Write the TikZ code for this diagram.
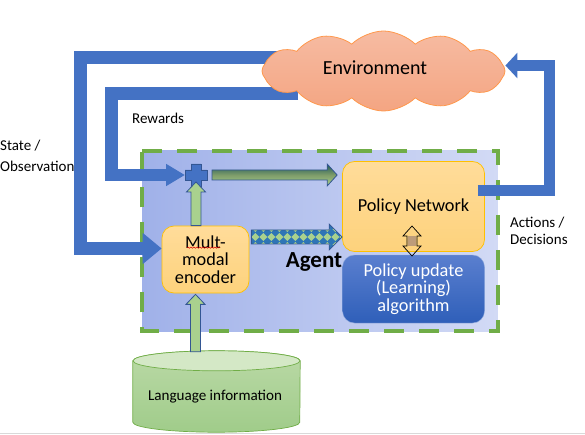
\documentclass[tikz,border=0pt]{standalone}
\usepackage{fontspec}
\setmainfont{Carlito}
\usetikzlibrary{arrows.meta,positioning,calc,shapes.geometric,shapes.symbols,decorations.pathmorphing}
\definecolor{band}{HTML}{4472C4}
\definecolor{edgeg}{HTML}{70AD47}
\definecolor{arrg}{HTML}{A9D18E}
\definecolor{arrb}{HTML}{2E75B6}
\definecolor{cloudl}{HTML}{F6BBA2}
\definecolor{cloudd}{HTML}{F4A582}
\definecolor{yboxl}{HTML}{FFDC9A}
\definecolor{yboxd}{HTML}{FDD27C}
\definecolor{ybord}{HTML}{FFC000}
\definecolor{agl}{HTML}{A0B1E9}
\definecolor{agd}{HTML}{D2DAF5}
\definecolor{updl}{HTML}{5A7FCF}
\definecolor{updd}{HTML}{2F5FB9}
\definecolor{dbl}{HTML}{BAD9A6}
\definecolor{dbd}{HTML}{A0CC8A}
\tikzset{
  lbl/.style={font=\fontsize{15}{18}\selectfont,inner sep=0pt,align=left},
  bandline/.style={line width=12.5pt,draw=band,-{Triangle[length=19pt,width=30pt,fill=band]}},
  ybox/.style={rounded corners=12pt,draw=ybord,top color=yboxl,bottom color=yboxd,align=center,line width=.7pt,font=\fontsize{18.3}{17.5}\selectfont,inner sep=0pt},
  blockarrow/.style n args={3}{to path={
    ($(\tikztostart)!#1!90:(\tikztotarget)$) --
    ($(\tikztotarget)!#3!(\tikztostart)!#1!90:(\tikztotarget)$) --
    ($(\tikztotarget)!#3!(\tikztostart)!#2!90:(\tikztotarget)$) --
    (\tikztotarget) --
    ($(\tikztotarget)!#3!(\tikztostart)!#2!-90:(\tikztotarget)$) --
    ($(\tikztotarget)!#3!(\tikztostart)!#1!-90:(\tikztotarget)$) --
    ($(\tikztostart)!#1!-90:(\tikztotarget)$) -- cycle}},
  garrow/.style={blockarrow={5pt}{9.5pt}{10pt},draw=band!75!black,fill=arrg,line width=.8pt},
}
\begin{document}
\begin{tikzpicture}[x=1pt,y=-1pt]
  \useasboundingbox (0,0) rectangle (585,435);
  \draw[black!15,line width=1pt] (0,433.5) -- (585,433.5);

  \node[minimum width=355pt,minimum height=180pt,inner sep=0pt,
    shade,shading angle=-60,left color=agl,right color=agd] (agentbox) at (320,241) {};
  \draw[edgeg,line width=4pt,dash pattern=on 20pt off 15pt] (agentbox.north west) -- (agentbox.north east) -- (agentbox.south east) -- (agentbox.south west) -- cycle;

  % the two boxes of the agent
  \node[ybox,minimum width=142pt,minimum height=90pt] (pnet) at (413.5,206.5) {Policy Network};
  \node[rounded corners=12pt,draw=band!60,top color=updl,bottom color=updd,text=white,align=center,
    minimum width=142pt,minimum height=68pt,inner sep=0pt,font=\fontsize{18.3}{17.5}\selectfont] (update) at (413.5,289) {Policy update\\(Learning)\\algorithm};
  \node[ybox,minimum width=87pt,minimum height=67pt] (enc) at (205.5,259.5) {Mult-\\modal\\encoder};
  \draw[red!85!black,line width=.5pt,decorate,decoration={snake,amplitude=.6pt,segment length=3pt}]
    ($(enc.north)+(-18.5,22)$) -- ($(enc.north)+(14.5,22)$);

  \coordinate (stin) at ($(enc.west)+(0,-11)$);
  \coordinate (acout) at ($(pnet.east)+(-7,-15.5)$);
  \coordinate (sum) at (196,175);
  \coordinate (rwin) at ($(sum)+(-11,0)$);

  % feedback bands
  \draw[bandline] (290,57.5) -- (80.5,57.5) -- (80.5,248.5) -- (stin);
  \draw[bandline,-{Triangle[length=19pt,width=21pt,fill=band]}] (298,93.5) -- (111.5,93.5) -- (111.5,175) -- (rwin);

  \node[cloud,cloud puffs=12,cloud puff arc=90,aspect=3.2,draw=orange!85!red!70,line width=.8pt,
    top color=cloudl,bottom color=cloudd,inner sep=0pt,minimum width=243pt,minimum height=80pt] (env) at (383.5,71) {};
  \node[font=\fontsize{20}{24}\selectfont,inner sep=0pt] (envlbl) at (375,67.5) {Environment};
  \coordinate (acin) at ($(env.east)+(0,-5.5)$);
  \draw[bandline,-{Triangle[length=12pt,width=25pt,fill=band]},line width=11pt] (acout) -- (549,191) -- (549,65.5) -- (acin);

  % language store
  \node[minimum width=167pt,minimum height=81pt,inner sep=0pt] (db) at (216.5,391.5) {};
  \draw[edgeg,line width=.7pt,top color=dbl,bottom color=dbd]
    ($(db.north west)+(0,10)$) -- ($(db.south west)+(0,-10)$) arc[start angle=180,end angle=360,x radius=83.5pt,y radius=10pt]
    -- ($(db.north east)+(0,10)$) arc[start angle=0,end angle=180,x radius=83.5pt,y radius=10pt] -- cycle;
  \draw[edgeg,line width=.7pt,fill=arrg!50!white] ($(db.north)+(0,10)$) ellipse[x radius=83.5pt,y radius=10pt];
  \node[font=\fontsize{15.1}{18}\selectfont,inner sep=0pt] (dblbl) at (215,397) {Language information};

  % sum
  \fill[band,draw=band!75!black,line width=.8pt] ($(sum)+(-5,-11)$) -- ($(sum)+(5,-11)$) -- ($(sum)+(5,-5)$) -- ($(sum)+(11,-5)$) --
    ($(sum)+(11,5)$) -- ($(sum)+(5,5)$) -- ($(sum)+(5,11)$) -- ($(sum)+(-5,11)$) -- ($(sum)+(-5,5)$) -- ($(sum)+(-11,5)$) --
    ($(sum)+(-11,-5)$) -- ($(sum)+(-5,-5)$) -- cycle;

  % block arrows
  \draw[garrow] ($(db.north)+(-21,1)$) to ($(enc.south)+(-10,1)$);
  \draw[garrow] ($(enc.north)+(-9.5,0)$) to ($(sum)+(0,7)$);
  \coordinate (tgtop) at ($(pnet.west)+(-5,-31.5)$);
  \draw[blockarrow={5pt}{11pt}{10pt},draw=band!75!black,top color=green!25!band!60!black,bottom color=arrg,middle color=arrg!75!black,line width=.8pt]
    ($(sum)+(16,0)$) to (tgtop);
  \coordinate (tgmid) at ($(pnet.west)+(0,30.5)$);
  \draw[blockarrow={7pt}{13pt}{13pt},draw=band!75!black,fill=arrb,line width=.8pt,
    path picture={\foreach \i in {0,...,11}{
      \fill[arrg] ($(path picture bounding box.west)+(\i*8,0)$) -- ++(4,-4) -- ++(4,4) -- ++(-4,4) -- cycle;
      \fill[arrg] ($(path picture bounding box.west)+(\i*8+4,8)$) -- ++(-3,0) -- ++(3,-3) -- ++(3,3) -- cycle;
      \fill[arrg] ($(path picture bounding box.west)+(\i*8+4,-8)$) -- ++(-3,0) -- ++(3,3) -- ++(3,-3) -- cycle;
    }}] ($(enc.east)+(2,-22.5)$) to (tgmid);

  % two-way arrow
  \coordinate (dtop) at (412,226);
  \coordinate (dbot) at (412,256);
  \fill[black!20!brown!65!white] ($(dtop)+(-4,10)$) rectangle ($(dbot)+(4,-10)$);
  \draw[black,line width=.7pt] (dtop) -- ++(9,10) -- ++(-4,0) -- ++(0,10) -- ++(4,0) -- (dbot) -- ++(-9,-10) -- ++(4,0) -- ++(0,-10) -- ++(-4,0) -- cycle;

  \node[lbl,anchor=west] (state) at (0,146) {State /};
  \node[lbl,anchor=west] (obs) at (0,166) {Observation};
  \node[lbl,anchor=west] (rew) at (132,118) {Rewards};
  \node[lbl,anchor=west] (act) at (510,223) {Actions /};
  \node[lbl,anchor=west] (dec) at (510,239.5) {Decisions};
  \node[font=\fontsize{23}{26}\selectfont\bfseries,inner sep=0pt] (agent) at (314,262) {Agent};
\end{tikzpicture}
\end{document}
